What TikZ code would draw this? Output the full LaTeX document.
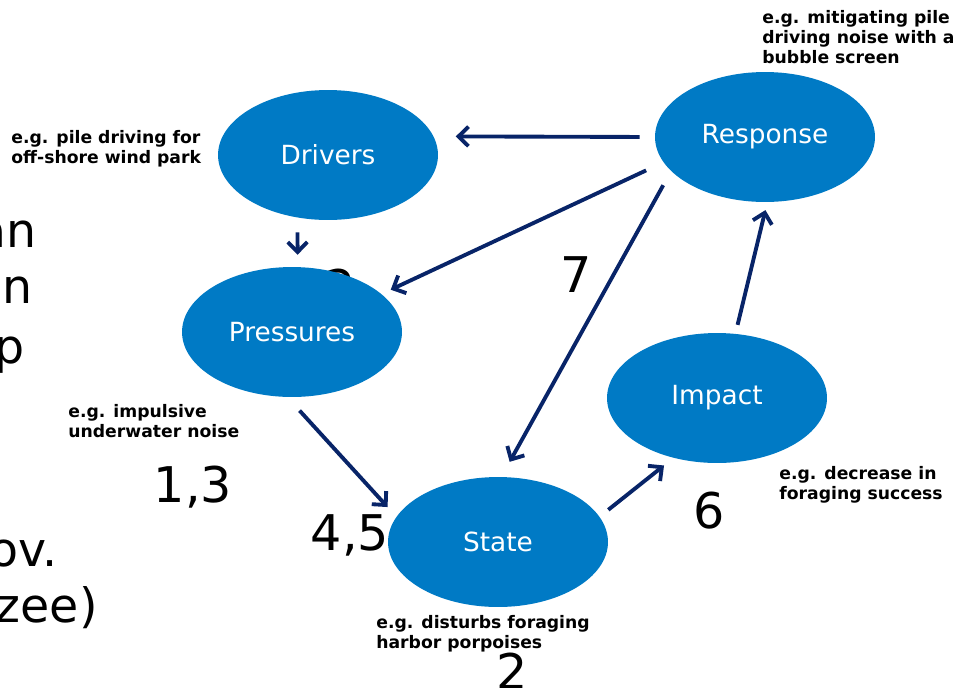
\documentclass[tikz,border=0pt]{standalone}
\usepackage{fontspec}
\setmainfont{DejaVu Sans}
\usetikzlibrary{shapes.geometric,arrows.meta}
\definecolor{dpsirblue}{RGB}{0,122,197}
\definecolor{dpsirnavy}{RGB}{8,36,104}

\begin{document}
\begin{tikzpicture}
  [x=0.02cm,y=-0.02cm,
   blob/.style={ellipse,fill=dpsirblue,text=white,minimum width=4.4cm,minimum height=2.6cm,inner sep=0pt,font=\fontsize{15}{18}\selectfont},
   note/.style={anchor=north west,align=left,inner sep=0pt,font=\bfseries\fontsize{9.8}{11.3}\selectfont},
   big/.style={anchor=base,inner sep=0pt,font=\fontsize{28}{34}\selectfont},
   lefttext/.style={anchor=base east,inner sep=0pt,font=\fontsize{27}{34}\selectfont},
   arr/.style={draw=dpsirnavy,line width=2.2pt,-{Straight Barb[length=2mm,width=3.9mm]}}]
  \useasboundingbox (0,0) rectangle (953,687);

  % number half hidden behind Pressures
  \node [big] (num2b) at (340,305) {2};

  \node [blob] (drv) at (328,155) {Drivers};
  \node [blob] (resp) at (765,137) {Response};
  \node [blob] (press) at (292,332) {Pressures};
  \node [blob] (imp) at (717,398) {Impact};
  \node [blob] (state) at (498,542) {State};

  \foreach \from/\to/\s/\e in {resp.180/drv.10/0.30/0.44,drv.244/press.85/0.29/0.24,
      resp.194/press.23/0.38/0.20,resp.200/state.87/0.32/0.34,press.266/state.166/0.36/0.26,
      state.14/imp.234/0.22/0.24,imp.74/resp.272/0.18/0.16}
    \draw [arr,shorten <=\s cm,shorten >=\e cm] (\from) -- (\to);

  \node [note] (ndrv) at (11,130) {e.g. pile driving for\\off-shore wind park};
  \node [note] (nresp) at (762,10) {e.g. mitigating pile\\driving noise with a\\bubble screen};
  \node [note] (npress) at (68,404) {e.g. impulsive\\underwater noise};
  \node [note] (nimp) at (779,466) {e.g. decrease in\\foraging success};
  \node [note] (nstate) at (376,615) {e.g. disturbs foraging\\harbor porpoises};

  \node [big] (num7) at (576,292) {7};
  \node [big] (num13) at (193,502) {1,3};
  \node [big] (num45) at (350,550) {4,5};
  \node [big] (num6) at (709,528) {6};
  \node [big] (num2) at (512,689) {2};

  \node [lefttext] (l1) at (37,247) {an};
  \node [lefttext] (l2) at (33,303) {en};
  \node [lefttext] (l3) at (25,363) {p};
  \node [lefttext] (l4) at (58,566) {ov.};
  \node [lefttext] (l5) at (98,622) {zee)};

\end{tikzpicture}
\end{document}
